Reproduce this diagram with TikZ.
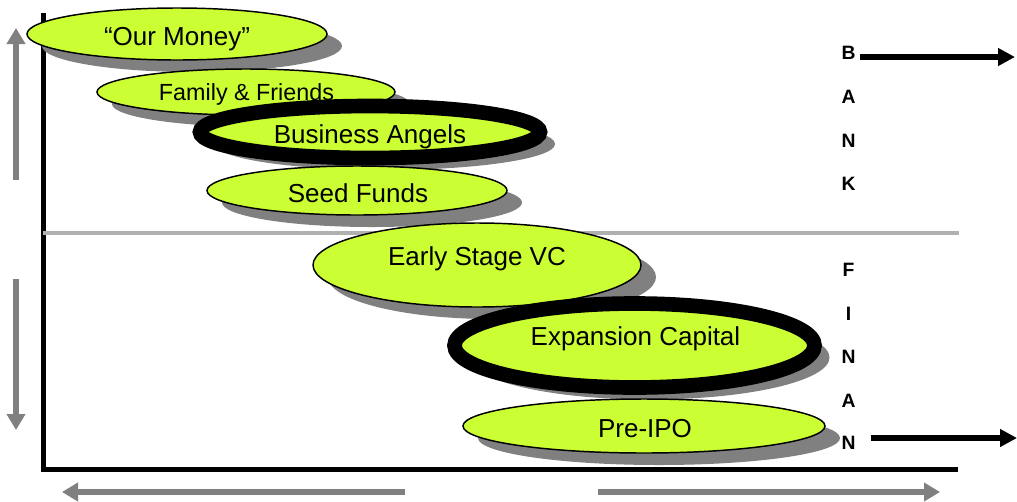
\documentclass[tikz,border=0pt]{standalone}
\usepackage{fontspec}
\setmainfont{Liberation Sans}
\usetikzlibrary{shapes.geometric,shadows,arrows.meta}

\definecolor{lime}{HTML}{CCFF33}
\definecolor{shadegray}{HTML}{808080}
\definecolor{dividergray}{HTML}{B0B0B0}
\definecolor{arrowgray}{HTML}{808080}

\tikzset{
  stage/.style={ellipse, inner sep=0pt, fill=lime, draw=black, line width=1.1pt,
    general shadow={fill=shadegray, shadow xshift=11.25pt, shadow yshift=-9pt}},
  keystage/.style={stage, line width=11pt},
  stagetext/.style={anchor=base, font=\fontsize{19.5}{22}\selectfont},
  smalltext/.style={anchor=base, font=\fontsize{17.5}{20}\selectfont},
  letter/.style={anchor=base, font=\bfseries\fontsize{14.5}{17}\selectfont},
  axisline/.style={line width=3.75pt, line join=miter, black},
  divider/.style={line width=3.4pt, dividergray},
  grayarrow/.style={line width=4.5pt, arrowgray, -{Triangle[length=12pt, width=13.5pt]}},
  blackarrow/.style={line width=4.5pt, black, -{Triangle[length=12.75pt, width=12.75pt]}}
}

\begin{document}
\begin{tikzpicture}[x=0.75pt, y=-0.75pt]
\useasboundingbox (0,0) rectangle (1017,501);

% axes and the bank / financing divider
\coordinate (axtop) at (43,13);
\coordinate (axcorner) at (43,469);
\coordinate (axend) at (958,469);
\draw[axisline] (axtop) -- (axcorner) -- (axend);
\coordinate (divL) at (43,233);
\coordinate (divR) at (959,233);
\draw[divider] (divL) -- (divR);

% gray direction arrows
\coordinate (upS) at (16,180);
\coordinate (upE) at (16,28);
\coordinate (dnS) at (16,279);
\coordinate (dnE) at (16,430);
\coordinate (lfS) at (405,492);
\coordinate (lfE) at (62,492);
\coordinate (rtS) at (598,492);
\coordinate (rtE) at (940,492);
\draw[grayarrow] (upS) -- (upE);
\draw[grayarrow] (dnS) -- (dnE);
\draw[grayarrow] (lfS) -- (lfE);
\draw[grayarrow] (rtS) -- (rtE);

% funding stages
\node[stage, minimum width=225pt, minimum height=39pt] (om) at (177,34) {};
\node[stagetext] (omt) at (177,45) {“Our Money”};

\node[stage, minimum width=223.5pt, minimum height=34.5pt] (ff) at (246,92) {};
\node[smalltext] (fft) at (246.5,100) {Family \& Friends};

\node[keystage, minimum width=255pt, minimum height=39pt] (ba) at (370,132) {};
\node[stagetext] (bat) at (370,143) {Business Angels};

\node[stage, minimum width=225pt, minimum height=36.75pt] (sf) at (357,190.5) {};
\node[stagetext] (sft) at (358,202) {Seed Funds};

\node[stage, minimum width=246pt, minimum height=63pt] (ev) at (477,265) {};
\node[stagetext] (evt) at (477,265) {Early Stage VC};

\node[keystage, minimum width=270pt, minimum height=63pt] (ec) at (634.5,345.5) {};
\node[stagetext] (ect) at (635.5,345) {Expansion Capital};

\node[stage, minimum width=271.5pt, minimum height=40.5pt] (pi) at (644,426) {};
\node[stagetext] (pit) at (645,437) {Pre-IPO};

% BANK FINANCING letters
\node[letter] (b1) at (848.5,59) {B};
\node[letter] (b2) at (848.5,103) {A};
\node[letter] (b3) at (848.5,147) {N};
\node[letter] (b4) at (848.5,190) {K};
\node[letter] (f1) at (848.5,276) {F};
\node[letter] (f2) at (848.5,320) {I};
\node[letter] (f3) at (848.5,363) {N};
\node[letter] (f4) at (848.5,407) {A};
\node[letter] (f5) at (848.5,449) {N};

% black arrows
\coordinate (bS) at (860,57);
\coordinate (bE) at (1015,57);
\coordinate (nS) at (871,438);
\coordinate (nE) at (1017,438);
\draw[blackarrow] (bS) -- (bE);
\draw[blackarrow] (nS) -- (nE);
\end{tikzpicture}
\end{document}
